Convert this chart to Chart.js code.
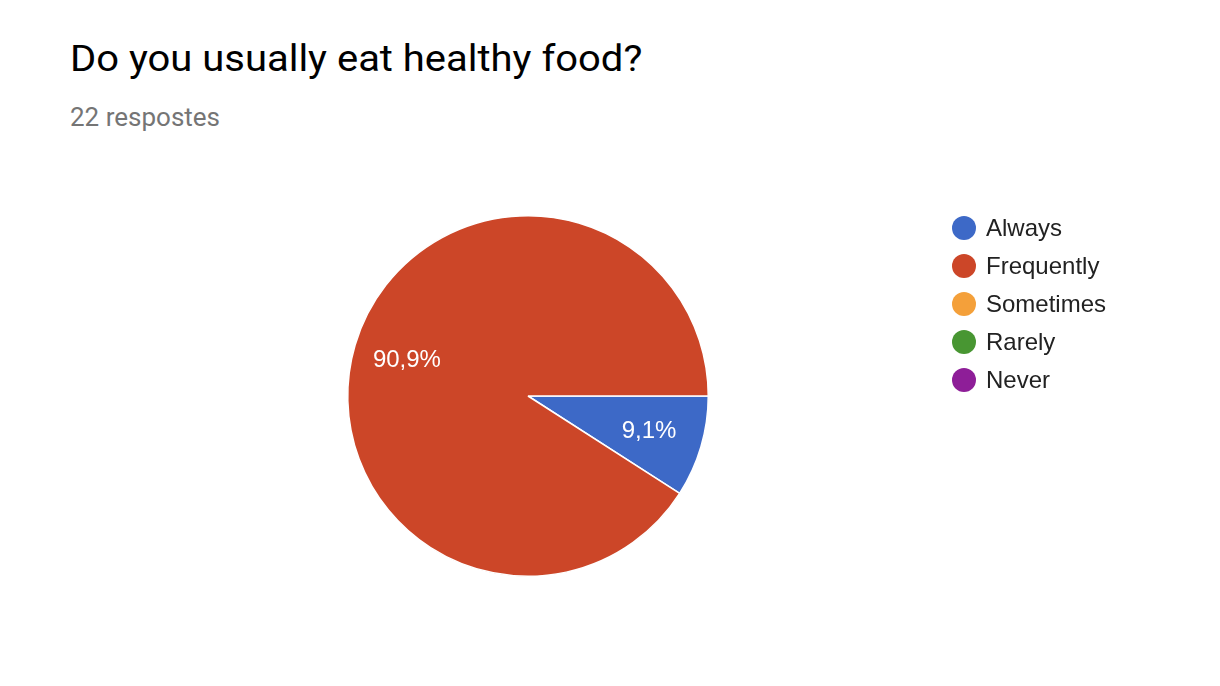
<!DOCTYPE html>
<html>
<head>
<meta charset="utf-8">
<script src="https://cdn.jsdelivr.net/npm/chart.js@4/dist/chart.umd.min.js"></script>
<style>
  html, body { margin: 0; padding: 0; background: #fff; }
  body { width: 1220px; height: 686px; position: relative; overflow: hidden; }
  #title { position: absolute; left: 70px; top: 35px; font-family: Roboto, sans-serif; font-size: 37px; line-height: 48px; color: #000; white-space: nowrap; transform-origin: 0 0; transform: scaleX(1.08); }
  #sub { position: absolute; left: 70px; top: 101px; font-family: Roboto, sans-serif; font-size: 26px; line-height: 32px; color: #757575; white-space: nowrap; }
  #wrap { position: absolute; left: 0; top: 0; width: 1220px; height: 686px; }
</style>
</head>
<body>
<div id="title">Do you usually eat healthy food?</div>
<div id="sub">22 respostes</div>
<div id="wrap"><canvas id="c" width="1220" height="686"></canvas></div>
<script>
const categories = ["Always", "Frequently", "Sometimes", "Rarely", "Never"];
const counts = [2, 20, 0, 0, 0];
const colors = ["#3d69c7", "#cc4628", "#f4a03a", "#489632", "#8e1e98"];

const total = counts.reduce((a, b) => a + b, 0);

const sliceLabels = {
  id: 'sliceLabels',
  afterDatasetsDraw(chart) {
    const ctx = chart.ctx;
    const meta = chart.getDatasetMeta(0);
    ctx.save();
    ctx.fillStyle = '#ffffff';
    ctx.font = '24px "Liberation Sans", Arial, sans-serif';
    ctx.textAlign = 'center';
    ctx.textBaseline = 'middle';
    meta.data.forEach((arc, i) => {
      const v = counts[i];
      if (!v) return;
      const p = arc.getProps(['x', 'y', 'startAngle', 'endAngle', 'outerRadius'], true);
      const mid = (p.startAngle + p.endAngle) / 2;
      const r = p.outerRadius * 0.7;
      const pct = (v / total * 100).toFixed(1).replace('.', ',') + '%';
      ctx.fillText(pct, p.x + Math.cos(mid) * r, p.y + Math.sin(mid) * r);
    });
    ctx.restore();
  }
};

const customLegend = {
  id: 'customLegend',
  afterDraw(chart) {
    const ctx = chart.ctx;
    ctx.save();
    ctx.font = '24px "Liberation Sans", Arial, sans-serif';
    ctx.textBaseline = 'middle';
    ctx.textAlign = 'left';
    chart.data.labels.forEach((lab, i) => {
      const y = 228 + i * 38;
      ctx.beginPath();
      ctx.arc(964, y, 12, 0, Math.PI * 2);
      ctx.fillStyle = chart.data.datasets[0].backgroundColor[i];
      ctx.fill();
      ctx.fillStyle = '#222222';
      ctx.fillText(lab, 986, y + 1);
    });
    ctx.restore();
  }
};

new Chart(document.getElementById('c'), {
  type: 'pie',
  data: {
    labels: categories,
    datasets: [{
      data: counts,
      backgroundColor: colors,
      borderColor: '#ffffff',
      borderWidth: 1.5
    }]
  },
  options: {
    responsive: false,
    animation: false,
    rotation: 90,
    layout: { padding: { left: 347, right: 511, top: 215, bottom: 109 } },
    plugins: {
      legend: { display: false },
      tooltip: { enabled: false },
      title: { display: false }
    }
  },
  plugins: [sliceLabels, customLegend]
});
</script>
</body>
</html>
